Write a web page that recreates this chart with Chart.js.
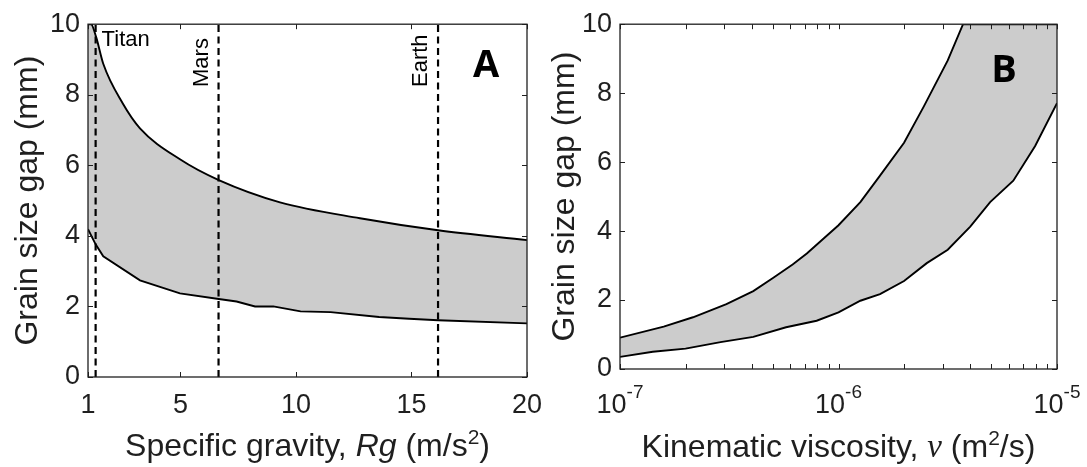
<!DOCTYPE html>
<html>
<head>
<meta charset="utf-8">
<script src="https://cdn.jsdelivr.net/npm/chart.js@4.4.1/dist/chart.umd.min.js"></script>
<style>
    body { margin: 0; background: #fff; }
    .panel { position: absolute; top: 0; height: 467px; }
    #panelA { left: 0; width: 545px; }
    #panelB { left: 545px; width: 542px; }
</style>
</head>
<body>
<div class="panel" id="panelA"><canvas id="chartA"></canvas></div>
<div class="panel" id="panelB"><canvas id="chartB"></canvas></div>
<script>
const FONT = '"Liberation Sans", Arial, Helvetica, sans-serif';
const INK = '#1f1f1f';
const BAND = '#cccccc';
const TITLE = `32px ${FONT}`;
const SUP = `21px ${FONT}`;

// A: grain size gap against specific gravity Rg (m/s2)
const gravityTicks = [1, 5, 10, 15, 20];
const gravityUpperX = [1, 1.13, 1.35, 1.66, 2.5, 3.25, 4.98, 6.66, 9.31, 12.77, 16.15, 20];
const gravityUpperGap = [10, 10, 9.64, 8.88, 7.76, 7.05, 6.17, 5.58, 4.95, 4.5, 4.16, 3.88];
const gravityLowerX = [1, 1.33, 1.66, 3.25, 4.98, 6.66, 7.43, 8.23, 9.02, 10.2, 11.5, 13.6, 14.9, 16.15, 20];
const gravityLowerGap = [4.19, 3.76, 3.42, 2.74, 2.37, 2.21, 2.14, 2.0, 2.0, 1.86, 1.84, 1.7, 1.65, 1.61, 1.52];
const planetNames = ['Titan', 'Mars', 'Earth'];
const planetRg = [1.33, 6.65, 16.15];

// B: grain size gap against kinematic viscosity (x kept as powers of ten)
const viscosityTickExp = [-7, -6, -5];
const viscosityUpperExp = [-7, -6.8, -6.666, -6.513, -6.39, -6.3, -6.21, -6.145, -6, -5.9, -5.81, -5.7, -5.61, -5.5, -5.43, -5];
const viscosityUpperGap = [0.91, 1.23, 1.5, 1.88, 2.26, 2.64, 3.03, 3.35, 4.17, 4.84, 5.61, 6.56, 7.61, 8.95, 10, 10];
const viscosityLowerExp = [-7, -6.85, -6.7, -6.54, -6.39, -6.24, -6.1, -6, -5.9, -5.81, -5.7, -5.596, -5.5, -5.397, -5.306, -5.2, -5.1, -5];
const viscosityLowerGap = [0.35, 0.5, 0.59, 0.78, 0.93, 1.21, 1.4, 1.64, 1.98, 2.17, 2.55, 3.07, 3.46, 4.13, 4.84, 5.46, 6.47, 7.71];

const gapTicks = [0, 2, 4, 6, 8, 10];

Chart.defaults.font.family = FONT;
Chart.defaults.color = INK;

const points = (xs, ys) => xs.map((x, i) => ({ x: x, y: ys[i] }));

const curve = (data, extra) => Object.assign({
    data: data,
    borderColor: '#000',
    borderWidth: 1.9,
    pointRadius: 0,
    tension: 0,
    fill: false
}, extra);

// mixed fonts on one baseline: [text, font, rise]
function drawRich (ctx, parts, x, y) {
    let width = 0;
    for (const p of parts) {
        ctx.font = p[1];
        width += ctx.measureText(p[0]).width;
    }
    let cx = x - width / 2;
    ctx.textAlign = 'left';
    ctx.textBaseline = 'alphabetic';
    for (const p of parts) {
        ctx.font = p[1];
        ctx.fillText(p[0], cx, y - (p[2] || 0));
        cx += ctx.measureText(p[0]).width;
    }
}

// box round the plot with inward ticks on all four sides
function drawFrame (ctx, area, xScale, yScale, xValues, yValues) {
    const len = 5;
    ctx.strokeStyle = INK;
    ctx.lineWidth = 1;
    ctx.beginPath();
    for (const v of xValues) {
        const px = Math.round(xScale.getPixelForValue(v)) + 0.5;
        ctx.moveTo(px, area.bottom); ctx.lineTo(px, area.bottom - len);
        ctx.moveTo(px, area.top); ctx.lineTo(px, area.top + len);
    }
    for (const v of yValues) {
        const py = Math.round(yScale.getPixelForValue(v)) + 0.5;
        ctx.moveTo(area.left, py); ctx.lineTo(area.left + len, py);
        ctx.moveTo(area.right, py); ctx.lineTo(area.right - len, py);
    }
    ctx.stroke();
    ctx.lineWidth = 1.3;
    ctx.strokeRect(area.left, area.top, area.right - area.left, area.bottom - area.top);
}

function drawYTitle (ctx, area, baselineX) {
    ctx.save();
    ctx.translate(baselineX, (area.top + area.bottom) / 2);
    ctx.rotate(-Math.PI / 2);
    ctx.fillStyle = INK;
    ctx.font = TITLE;
    ctx.textAlign = 'center';
    ctx.textBaseline = 'alphabetic';
    ctx.fillText('Grain size gap (mm)', 0, 0);
    ctx.restore();
}

const yAxis = {
    min: 0,
    max: 10,
    afterBuildTicks: s => { s.ticks = gapTicks.map(v => ({ value: v })); },
    ticks: { font: { size: 27 }, padding: 8, color: INK },
    grid: { display: false, drawTicks: false },
    border: { display: false }
};

const baseOptions = {
    animation: false,
    responsive: true,
    maintainAspectRatio: false,
    events: [],
    plugins: { legend: { display: false }, tooltip: { enabled: false } }
};

const gravityDecor = {
    id: 'gravityDecor',
    afterDraw (chart) {
        const { ctx, chartArea: a, scales: { x, y } } = chart;
        ctx.save();
        drawFrame(ctx, a, x, y, gravityTicks, gapTicks);

        ctx.fillStyle = INK;
        ctx.font = `27px ${FONT}`;
        ctx.textAlign = 'center';
        ctx.textBaseline = 'alphabetic';
        gravityTicks.forEach(v => ctx.fillText(String(v), x.getPixelForValue(v), 412.5));

        drawRich(ctx, [
            ['Specific gravity, ', TITLE],
            ['Rg', `italic ${TITLE}`],
            [' (m/s', TITLE],
            ['2', SUP, 12],
            [')', TITLE]
        ], (a.left + a.right) / 2, 455.5);

        drawYTitle(ctx, a, 37);

        // planet names beside their dashed lines
        ctx.fillStyle = '#000';
        ctx.font = `22px ${FONT}`;
        ctx.textAlign = 'left';
        ctx.fillText(planetNames[0], x.getPixelForValue(planetRg[0]) + 6, 46);
        [1, 2].forEach(i => {
            ctx.save();
            ctx.translate(x.getPixelForValue(planetRg[i]) - 11, 87);
            ctx.rotate(-Math.PI / 2);
            ctx.fillText(planetNames[i], 0, 0);
            ctx.restore();
        });

        ctx.font = `bold 38px "Open Sans", ${FONT}`;
        ctx.textAlign = 'center';
        ctx.fillText('A', 486, 77);
        ctx.restore();
    }
};

const viscosityDecor = {
    id: 'viscosityDecor',
    afterDraw (chart) {
        const { ctx, chartArea: a, scales: { x, y } } = chart;
        const first = viscosityTickExp[0];
        const last = viscosityTickExp[viscosityTickExp.length - 1];
        const minor = [];
        for (let e = first; e < last; e++) {
            for (let m = 1; m < 10; m++) minor.push(m * Math.pow(10, e));
        }
        minor.push(Math.pow(10, last));

        ctx.save();
        drawFrame(ctx, a, x, y, minor, gapTicks);

        ctx.fillStyle = INK;
        viscosityTickExp.forEach(e => {
            drawRich(ctx, [
                ['10', `27px ${FONT}`],
                [String(e), `19px ${FONT}`, 15]
            ], x.getPixelForValue(Math.pow(10, e)), 413);
        });

        drawRich(ctx, [
            ['Kinematic viscosity, ', TITLE],
            ['\u03bd', `italic 33px "Liberation Serif", "DejaVu Serif", serif`],
            [' (m', TITLE],
            ['2', SUP, 12],
            ['/s)', TITLE]
        ], (a.left + a.right) / 2, 456.5);

        drawYTitle(ctx, a, 29);

        ctx.fillStyle = '#000';
        ctx.font = `bold 38px "Open Sans", ${FONT}`;
        ctx.textAlign = 'center';
        ctx.fillText('B', 459, 81.5);
        ctx.restore();
    }
};

const planetLines = planetRg.map(rg => curve(
    [{ x: rg, y: 0 }, { x: rg, y: 10 }],
    { borderWidth: 2.2, borderDash: [7, 4.5], order: 0 }
));

new Chart(document.getElementById('chartA'), {
    type: 'line',
    data: {
        datasets: [
            curve(points(gravityUpperX, gravityUpperGap), {
                fill: 1, backgroundColor: BAND, order: 2, cubicInterpolationMode: 'monotone'
            }),
            curve(points(gravityLowerX, gravityLowerGap), { order: 1 }),
            ...planetLines
        ]
    },
    options: Object.assign({}, baseOptions, {
        layout: { padding: { top: 17, right: 18, left: 0, bottom: 0 } },
        scales: {
            x: {
                type: 'linear',
                min: 1,
                max: 20,
                afterFit: s => { s.height = 90; },
                ticks: { display: false },
                grid: { display: false, drawTicks: false },
                border: { display: false }
            },
            y: Object.assign({ afterFit: s => { s.width = 88; } }, yAxis)
        }
    }),
    plugins: [gravityDecor]
});

new Chart(document.getElementById('chartB'), {
    type: 'line',
    data: {
        datasets: [
            curve(points(viscosityUpperExp.map(e => Math.pow(10, e)), viscosityUpperGap), {
                fill: 1, backgroundColor: BAND, order: 2
            }),
            curve(points(viscosityLowerExp.map(e => Math.pow(10, e)), viscosityLowerGap), { order: 1 })
        ]
    },
    options: Object.assign({}, baseOptions, {
        layout: { padding: { top: 20, right: 30, left: 0, bottom: 0 } },
        scales: {
            x: {
                type: 'logarithmic',
                min: 1e-7,
                max: 1e-5,
                afterFit: s => { s.height = 98; },
                ticks: { display: false },
                grid: { display: false, drawTicks: false },
                border: { display: false }
            },
            y: Object.assign({ afterFit: s => { s.width = 75; } }, yAxis)
        }
    }),
    plugins: [viscosityDecor]
});
</script>
</body>
</html>
